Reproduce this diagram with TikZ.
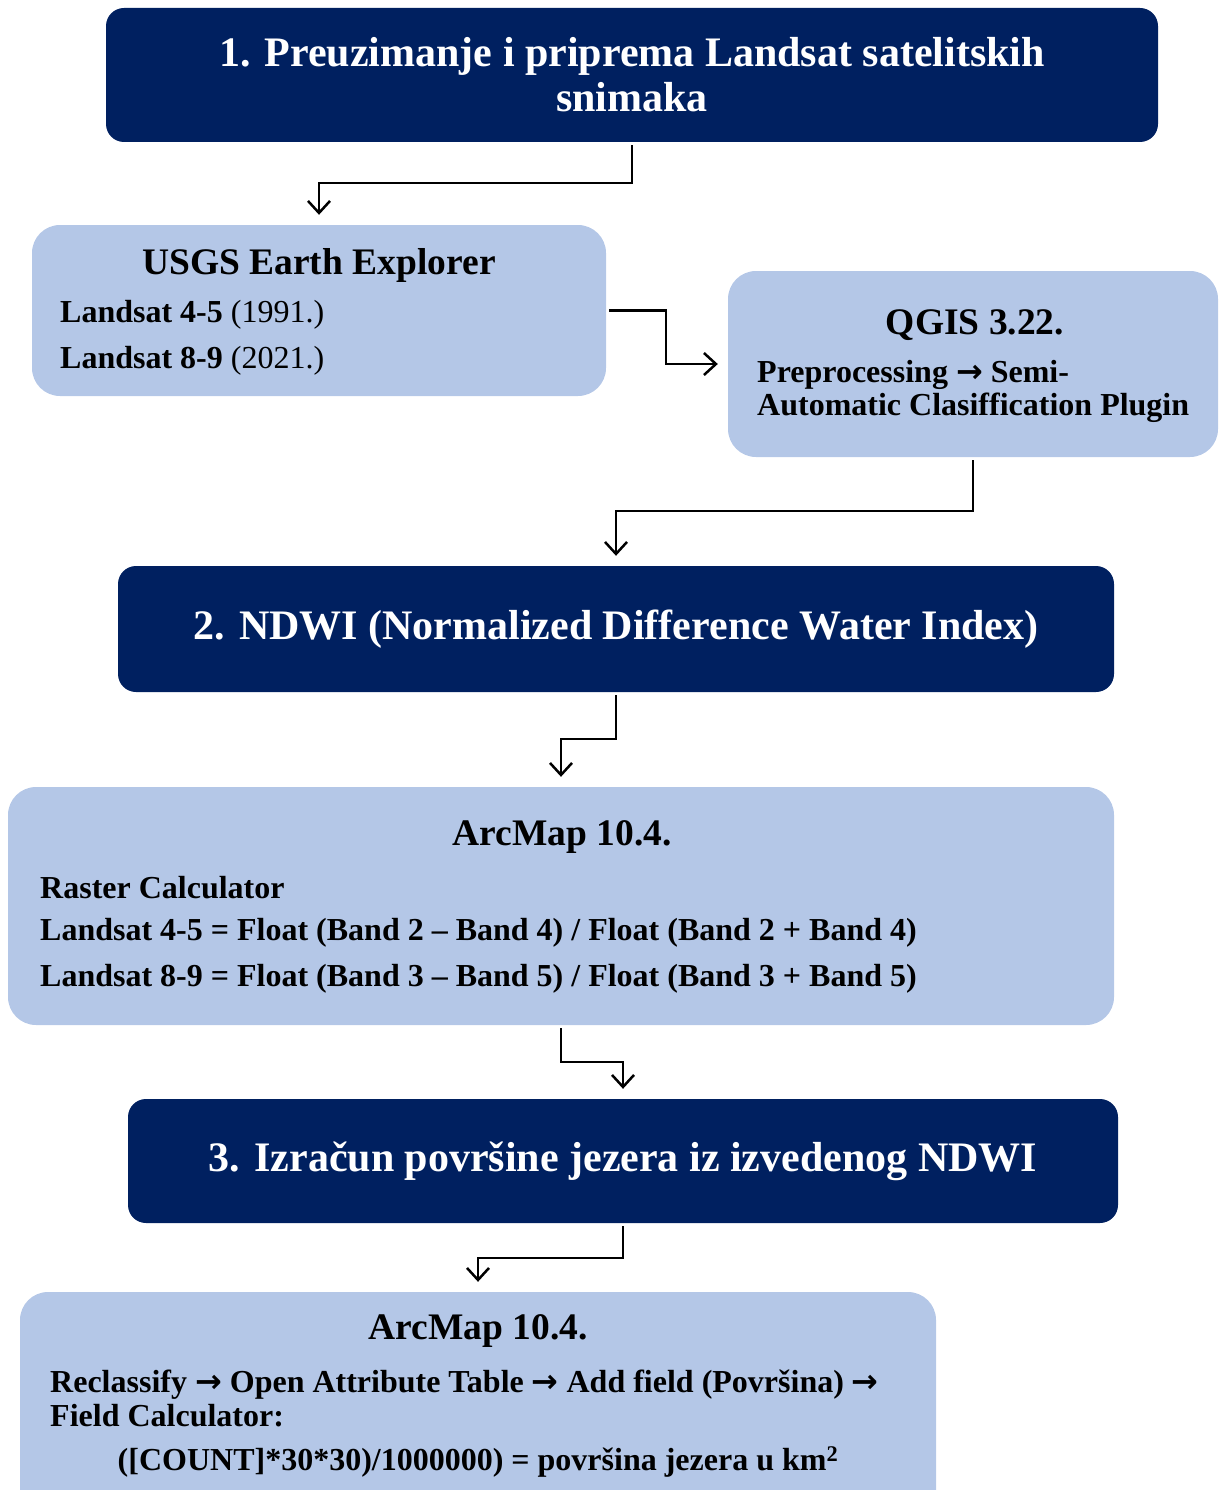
\documentclass[tikz,border=0pt]{standalone}
\usepackage{fontspec}
\setmainfont{Liberation Serif}
\newfontfamily\arrowfont{DejaVu Sans}
\usetikzlibrary{arrows.meta, positioning}
\definecolor{navy}{HTML}{002060}
\definecolor{paleblue}{HTML}{B4C7E7}
\newcommand{\stepto}{{\arrowfont\bfseries →}}

\begin{document}
\begin{tikzpicture}[x=1pt, y=-1pt,
    darkbox/.style={fill=navy, rounded corners=18, text=white, align=center,
        font=\bfseries\fontsize{42}{45}\selectfont},
    lightbox/.style={fill=paleblue, rounded corners=28},
    boxtitle/.style={font=\bfseries\fontsize{37.5}{40}\selectfont},
    boxtext/.style={anchor=west, align=left, inner sep=0pt, font=\fontsize{32}{33}\selectfont},
    boldtext/.style={boxtext, font=\bfseries\fontsize{32}{33}\selectfont},
    flow/.style={-{Straight Barb[length=12pt, width=22pt]}, line width=2.5pt,
        shorten <=3pt, shorten >=10pt}]
    \useasboundingbox (0,0) rectangle (1218,1490);

    % phase boxes
    \node[darkbox, minimum width=1052, minimum height=134] (prep) at (632,75)
        {1. Preuzimanje i priprema Landsat satelitskih\\snimaka};
    \node[darkbox, minimum width=996, minimum height=126] (ndwi) at (616,629)
        {2. NDWI (Normalized Difference Water Index)};
    \node[darkbox, minimum width=990, minimum height=124] (area) at (623,1161)
        {3. Izračun površine jezera iz izvedenog NDWI};

    % tool boxes
    \node[lightbox, minimum width=574, minimum height=171] (usgs) at (319,310.5) {};
    \node[boxtitle] (usgstitle) at (319,265) {USGS Earth Explorer};
    \node[boxtext] (usgsold) at (60,315) {\textbf{Landsat 4-5} (1991.)};
    \node[boxtext] (usgsnew) at (60,361) {\textbf{Landsat 8-9} (2021.)};

    \node[lightbox, minimum width=490, minimum height=186] (qgis) at (973,364) {};
    \node[boxtitle] (qgistitle) at (975,325) {QGIS 3.22.};
    \node[boxtext, font=\bfseries\fontsize{32}{33}\selectfont] (qgissteps) at (757,391)
        {Preprocessing \stepto{} Semi-\\Automatic Clasiffication Plugin};

    \node[lightbox, minimum width=1106, minimum height=238] (arcndwi) at (561,906) {};
    \node[boxtitle] (arcndwititle) at (562,837) {ArcMap 10.4.};
    \node[boldtext] (rastercalc) at (40,888) {Raster Calculator};
    \node[boldtext] (formulaold) at (40,933)
        {Landsat 4-5 = Float (Band 2 – Band 4) / Float (Band 2 + Band 4)};
    \node[boldtext] (formulanew) at (40,979)
        {Landsat 8-9 = Float (Band 3 – Band 5) / Float (Band 3 + Band 5)};

    \node[lightbox, minimum width=916, minimum height=230] (arcarea) at (478,1407) {};
    \node[boxtitle] (arcareatitle) at (478,1331) {ArcMap 10.4.};
    \node[boldtext, font=\bfseries\fontsize{32}{34}\selectfont] (arcsteps) at (50,1398)
        {Reclassify \stepto{} Open Attribute Table \stepto{} Add field (Površina) \stepto\\Field Calculator:};
    \node[boldtext, anchor=center] (areaformula) at (478,1462)
        {([COUNT]*30*30)/1000000) = površina jezera u km\textsuperscript{2}};

    % connectors
    \draw[flow] (prep.south) -- ++(0,41) -| (usgs.north);
    \draw[flow] (usgs.east) -- ++(60,0) |- (qgis.west);
    \draw[flow] (qgis.south) -- ++(0,54) -| (ndwi.north);
    \draw[flow] (ndwi.south) -- ++(0,47) -| (arcndwi.north);
    \draw[flow] (arcndwi.south) -- ++(0,37) -| (area.north);
    \draw[flow] (area.south) -- ++(0,35) -| (arcarea.north);
\end{tikzpicture}
\end{document}
